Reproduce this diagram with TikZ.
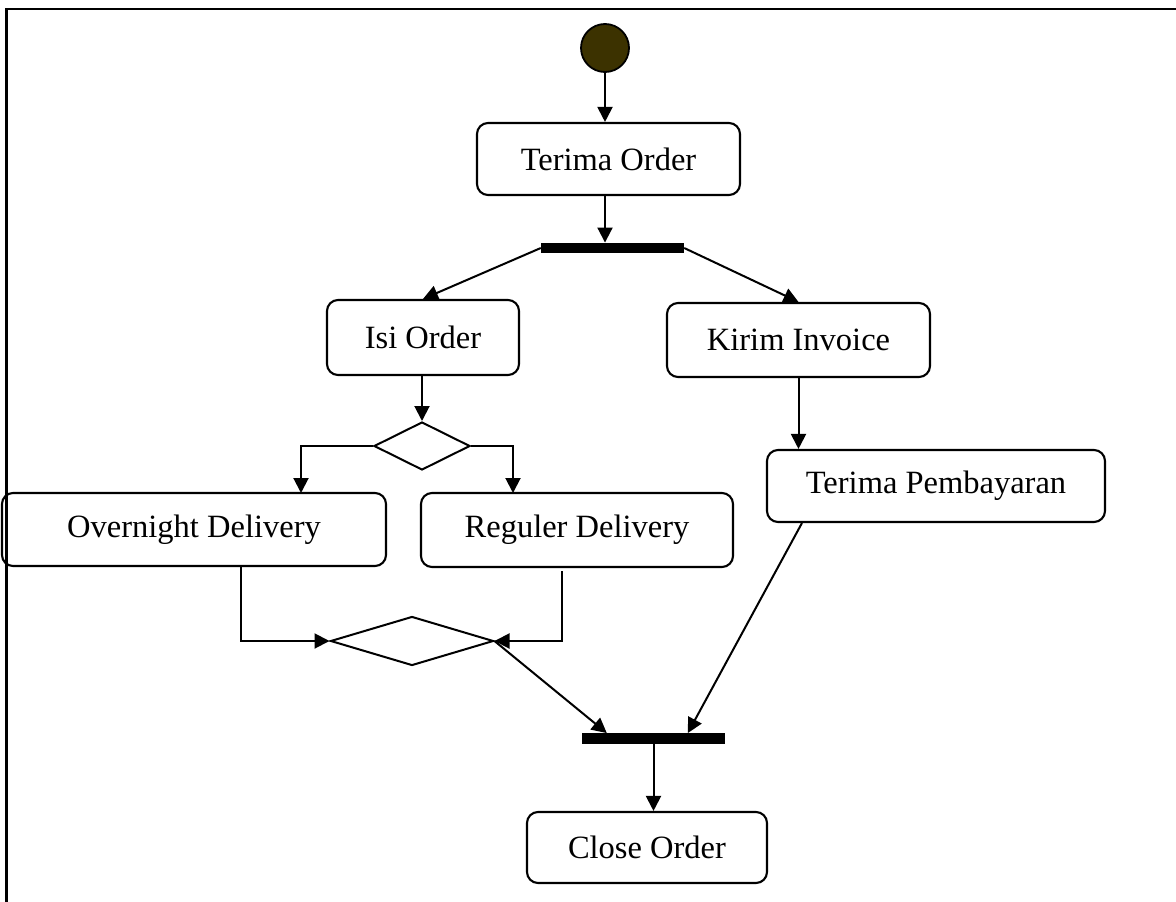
\documentclass[tikz,border=0pt]{standalone}
\usepackage{fontspec}
\setmainfont{Liberation Serif}
\usetikzlibrary{shapes.geometric,arrows.meta}
\definecolor{startfill}{RGB}{60,50,0}
\begin{document}
\begin{tikzpicture}[x=1pt,y=-1pt,
  every node/.style={font=\fontsize{32.5}{39}\selectfont},
  activity/.style={draw,line width=2.1pt,rounded corners=11pt,inner sep=0pt},
  bar/.style={fill=black,inner sep=0pt,minimum height=10.5pt,minimum width=143pt},
  choice/.style={draw,diamond,line width=2pt,inner sep=0pt},
  flow/.style={line width=2pt,-{Triangle[length=15pt,width=15pt]}},
  plain/.style={line width=2pt}]
\useasboundingbox (0,0) rectangle (1176,902);
% frame
\draw[line width=2.2pt] (6.5,902) -- (6.5,9) -- (1177,9);

% start state
\node[circle,draw,line width=1.8pt,fill=startfill,minimum size=48pt,inner sep=0pt] (start) at (605,48) {};

% activities
\node[activity,minimum width=263pt,minimum height=72pt] (terima) at (608.5,159) {Terima Order};
\node[activity,minimum width=192pt,minimum height=75pt] (isi) at (423,337.5) {Isi Order};
\node[activity,minimum width=263pt,minimum height=74pt] (kirim) at (798.5,340) {Kirim Invoice};
\node[activity,minimum width=384pt,minimum height=73pt] (overnight) at (194,529.5) {Overnight Delivery};
\node[activity,minimum width=312pt,minimum height=74pt] (reguler) at (577,530) {Reguler Delivery};
\node[activity,minimum width=338pt,minimum height=72pt] (bayar) at (936,486) {Terima Pembayaran};
\node[activity,minimum width=240pt,minimum height=71pt] (close) at (647,847.5) {Close Order};

% fork / join bars
\node[bar] (fork) at (612.5,248) {};
\node[bar] (join) at (653.5,738.5) {};

% decision / merge
\node[choice,minimum width=96pt,minimum height=48pt] (decide) at (422,446) {};
\node[choice,minimum width=163pt,minimum height=49pt] (merge) at (412,641) {};

\coordinate (ovtop) at (301,493);
\coordinate (regtop) at (513,493);

% flows
\draw[flow] (start.south) -- (start.south |- terima.north);
\draw[flow] (start.south |- terima.south) -- (start.south |- fork.north);
\draw[flow] (fork.west) -- (isi.north);
\draw[flow] (fork.east) -- (kirim.north);
\draw[flow] (decide.north |- isi.south) -- (decide.north);
\draw[flow] (decide.west) -| (ovtop);
\draw[flow] (decide.east) -| (regtop);
\draw[flow] (kirim.south) -- (kirim.south |- bayar.north);
\draw[flow] ([xshift=240pt]overnight.south west) |- (merge.west);
\draw[flow] ([xshift=142pt,yshift=-3pt]reguler.south west) |- (merge.east);
\draw[flow] (merge.east) -- ([xshift=25pt]join.north west);
\draw[flow] ([xshift=36pt]bayar.south west) -- ([xshift=106pt]join.north west);
\draw[flow] (join.south) -- (join.south |- close.north);
\end{tikzpicture}
\end{document}
